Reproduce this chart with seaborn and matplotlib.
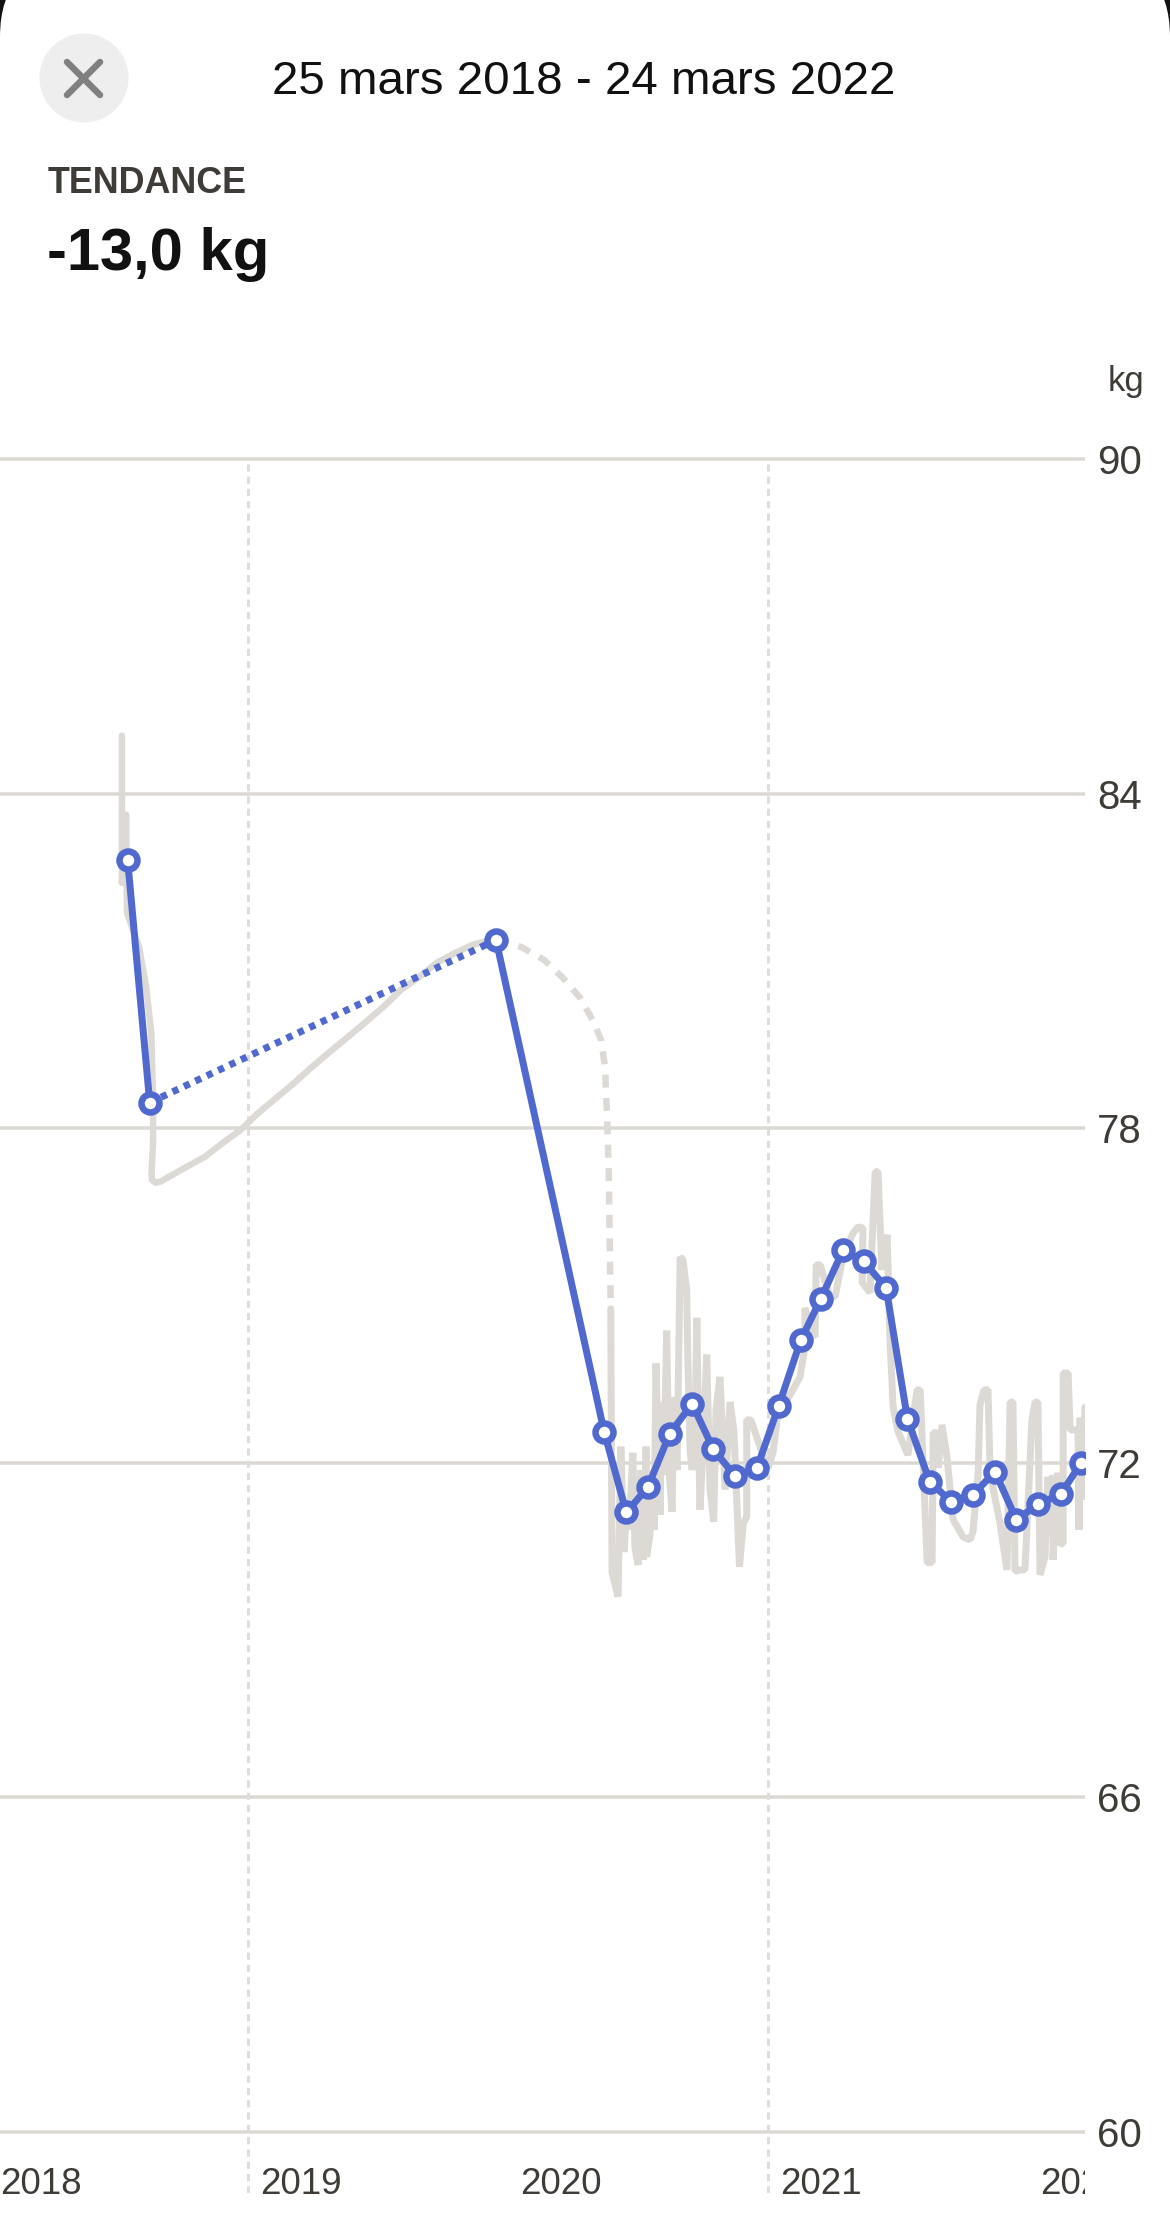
import matplotlib
matplotlib.use("Agg")
import matplotlib.pyplot as plt
import seaborn as sns
from matplotlib.patches import Circle, FancyBboxPatch
from matplotlib.lines import Line2D
from matplotlib.transforms import Bbox, IdentityTransform, ScaledTranslation

# ---- data ----
TITLE = "25 mars 2018 - 24 mars 2022"
METRIC = "TENDANCE"
DELTA = "-13,0 kg"
UNIT = "kg"
Y_TICKS = [60, 66, 72, 78, 84, 90]
X_TICKS = [2018, 2019, 2020, 2021, 2022]
X_GUIDES = [2019, 2021]

first_years = [2018.515, 2018.515, 2018.531, 2018.5346, 2018.581, 2018.608, 2018.628, 2018.635,
               2018.635, 2018.629, 2018.631, 2018.645, 2018.662, 2018.723, 2018.765, 2018.835,
               2018.904, 2018.972, 2019.041, 2019.108, 2019.177, 2019.246, 2019.315, 2019.385,
               2019.454, 2019.522, 2019.588, 2019.658, 2019.727, 2019.796, 2019.865, 2019.954]
first_kg = [85.04, 82.40, 83.62, 81.86, 81.25, 80.54, 79.71, 78.51,
            77.79, 77.16, 77.07, 77.02, 77.04, 77.20, 77.31, 77.49,
            77.74, 77.97, 78.28, 78.54, 78.81, 79.10, 79.37, 79.64,
            79.91, 80.18, 80.48, 80.71, 80.97, 81.14, 81.29, 81.40]

gap_years = [2019.954, 2020.050, 2020.138, 2020.208, 2020.277, 2020.331, 2020.358, 2020.373,
             2020.381, 2020.387, 2020.395]
gap_kg = [81.40, 81.25, 81.02, 80.71, 80.34, 79.89, 79.58, 79.10, 78.20, 77.31, 74.76]

daily_years = [2020.395, 2020.400, 2020.423, 2020.434, 2020.446, 2020.458, 2020.465, 2020.480,
               2020.488, 2020.500, 2020.510, 2020.519, 2020.531, 2020.533, 2020.546, 2020.554,
               2020.562, 2020.569, 2020.585, 2020.591, 2020.600, 2020.610, 2020.619, 2020.631,
               2020.638, 2020.650, 2020.662, 2020.673, 2020.687, 2020.692, 2020.700, 2020.708,
               2020.719, 2020.726, 2020.738, 2020.750, 2020.764, 2020.777, 2020.791, 2020.800,
               2020.815, 2020.835, 2020.854, 2020.869, 2020.890, 2020.905, 2020.918, 2020.918,
               2020.934, 2020.969, 2021.000, 2021.019, 2021.038, 2021.085, 2021.123, 2021.142,
               2021.142, 2021.169, 2021.181, 2021.185, 2021.200, 2021.238, 2021.258, 2021.288,
               2021.327, 2021.346, 2021.365, 2021.362, 2021.392, 2021.412, 2021.423, 2021.438,
               2021.458, 2021.469, 2021.481, 2021.500, 2021.538, 2021.573, 2021.585, 2021.592,
               2021.612, 2021.631, 2021.635, 2021.650, 2021.654, 2021.669, 2021.688, 2021.712,
               2021.750, 2021.777, 2021.788, 2021.808, 2021.815, 2021.831, 2021.846, 2021.854,
               2021.892, 2021.919, 2021.931, 2021.942, 2021.950, 2021.969, 2021.988, 2022.015,
               2022.027, 2022.038, 2022.046, 2022.065, 2022.077, 2022.085, 2022.096, 2022.096,
               2022.108, 2022.115, 2022.123, 2022.135, 2022.135, 2022.154, 2022.162, 2022.192,
               2022.196, 2022.200, 2022.208, 2022.219]
daily_kg = [74.76, 70.03, 69.60, 72.29, 70.40, 71.34, 70.80, 72.18,
            70.48, 70.17, 71.87, 70.26, 72.29, 70.31, 70.71, 71.87,
            70.80, 73.78, 71.07, 73.09, 71.78, 74.37, 71.87, 71.12,
            73.18, 71.87, 75.69, 75.64, 75.10, 73.79, 72.23, 71.87,
            72.41, 74.60, 71.16, 72.23, 73.94, 71.52, 70.94, 72.95,
            73.54, 71.52, 73.09, 72.56, 70.14, 70.92, 71.03, 72.77,
            72.77, 72.29, 71.91, 72.18, 72.90, 73.22, 73.54, 74.08,
            74.78, 74.30, 74.26, 75.55, 75.55, 74.98, 74.98, 75.69,
            76.12, 76.23, 76.21, 75.23, 75.05, 77.22, 77.22, 75.46,
            76.09, 74.21, 73.00, 72.56, 72.14, 73.31, 73.31, 72.50,
            70.21, 70.21, 72.54, 72.54, 71.91, 72.68, 72.11, 70.98,
            70.67, 70.62, 70.76, 71.82, 73.04, 73.31, 73.31, 71.82,
            70.92, 70.08, 73.09, 73.09, 70.05, 70.08, 70.08, 72.77,
            73.09, 73.09, 69.99, 70.31, 71.75, 70.71, 71.78, 70.26,
            71.52, 71.82, 70.53, 70.57, 73.61, 73.61, 72.59, 72.59,
            70.80, 72.81, 71.34, 73.00]

trend_years = [2018.537, 2018.622, 2019.954, 2020.370, 2020.455, 2020.537, 2020.622, 2020.708,
               2020.790, 2020.874, 2020.957, 2021.041, 2021.126, 2021.203, 2021.288, 2021.368,
               2021.454, 2021.536, 2021.622, 2021.705, 2021.788, 2021.873, 2021.955, 2022.040,
               2022.126, 2022.203]
trend_kg = [82.81, 78.46, 81.375, 72.55, 71.11, 71.56, 72.52, 73.06,
            72.24, 71.76, 71.90, 73.02, 74.20, 74.94, 75.81, 75.61,
            75.14, 72.79, 71.66, 71.30, 71.43, 71.84, 70.98, 71.26,
            71.44, 71.99]

# ---- style ----
BLUE = "#4F69CF"
GREY = "#DDDAD6"
GRID = "#DCD9D5"
GUIDE = "#DFDDDA"
INK = "#3F3C38"
W, H = 1170, 2240
DPI = 100
px = 72 / DPI

sns.set_theme(style="white")
plt.rcParams["font.family"] = ["Liberation Sans", "DejaVu Sans"]

fig = plt.figure(figsize=(W / DPI, H / DPI), dpi=DPI, facecolor="#111111")
idt = IdentityTransform()
fig.add_artist(FancyBboxPatch((0, -100), W, H + 143, boxstyle="round,pad=0,rounding_size=80",
                              transform=idt, facecolor="white", edgecolor="none", zorder=-5))

PLOT_TOP, PLOT_BOTTOM, PLOT_LEFT, PLOT_RIGHT = 440, 2193, -12, 1085
ax = fig.add_axes([PLOT_LEFT / W, 1 - PLOT_BOTTOM / H, (PLOT_RIGHT - PLOT_LEFT) / W,
                   (PLOT_BOTTOM - PLOT_TOP) / H], facecolor="none")
ax.set_xlim(2018, 2022.219)
ax.set_ylim(60 - 61 / 55.77, 90 + 19 / 55.77)
sns.despine(ax=ax, left=True, bottom=True, right=True, top=True)

ax.set_axisbelow(True)
ax.grid(axis="y", color=GRID, linewidth=3.5 * px)
ax.grid(axis="x", visible=False)
ax.vlines(X_GUIDES, ax.get_ylim()[0], 90, color=GUIDE, linewidth=3 * px,
          linestyles=[(0, (2.4, 1.7))], zorder=1)

grey_kw = dict(color=GREY, sort=False, estimator=None, errorbar=None, ax=ax, legend=False)
sns.lineplot(x=first_years, y=first_kg, linewidth=6.5 * px, solid_joinstyle="round", zorder=2, **grey_kw)
sns.lineplot(x=daily_years, y=daily_kg, linewidth=7 * px, solid_joinstyle="bevel", zorder=2, **grey_kw)
gap_line = sns.lineplot(x=gap_years, y=gap_kg, linewidth=6.5 * px, zorder=2, **grey_kw).lines[-1]
gap_line.set_linestyle((0, (2.0, 1.6)))
gap_line.set_dash_capstyle("butt")

blue_kw = dict(color=BLUE, sort=False, estimator=None, errorbar=None, ax=ax, legend=False,
               linewidth=7 * px, zorder=3)
sns.lineplot(x=trend_years[:2], y=trend_kg[:2], **blue_kw)
dot = sns.lineplot(x=trend_years[1:3], y=trend_kg[1:3], **blue_kw).lines[-1]
dot.set_linestyle((0, (0.9, 0.9)))
dot.set_dash_capstyle("butt")
sns.lineplot(x=trend_years[2:], y=trend_kg[2:], **blue_kw)
sns.scatterplot(x=trend_years, y=trend_kg, s=(18 * px) ** 2, facecolor="white", edgecolor=BLUE,
                linewidth=6.5 * px, ax=ax, zorder=4, legend=False)

ax.yaxis.tick_right()
ax.set_yticks(Y_TICKS)
ax.set_yticklabels([str(v) for v in Y_TICKS])
ax.set_xticks(X_TICKS)
ax.set_xticklabels([str(v) for v in X_TICKS])
ax.tick_params(axis="y", length=0, pad=12 * px, labelsize=29, labelcolor=INK)
ax.tick_params(axis="x", length=0, pad=-26 * px, labelsize=26.5, labelcolor=INK)

clip = Bbox([[0, 0], [PLOT_RIGHT, H]])
shift = ScaledTranslation(12 / DPI, 0, fig.dpi_scale_trans)
for lab in ax.get_xticklabels():
    lab.set_ha("left")
    lab.set_transform(lab.get_transform() + shift)
    lab.set_clip_on(True)
    lab.set_clip_box(clip)

def label(x, y, s, **kw):
    fig.text(x / W, 1 - y / H, s, **kw)

label(584, 94, TITLE, fontsize=34.2, color="#111111", ha="center", va="baseline")
label(48, 193, METRIC, fontsize=25.8, fontweight="bold", color=INK, ha="left", va="baseline")
label(47, 270, DELTA, fontsize=43, fontweight="bold", color="#111111", ha="left", va="baseline")
label(1108, 391, UNIT, fontsize=25, color=INK, ha="left", va="baseline")

# close button
fig.add_artist(Circle((84, H - 78), 44.5, transform=idt, facecolor="#EEEEEE", edgecolor="none"))
for (x0, y0, x1, y1) in [(67, 62, 100, 95), (67, 95, 100, 62)]:
    fig.add_artist(Line2D([x0, x1], [H - y0, H - y1], transform=idt, color="#808080",
                          linewidth=6.5 * px, solid_capstyle="round"))

fig.savefig("out.png", dpi=DPI, facecolor=fig.get_facecolor())
